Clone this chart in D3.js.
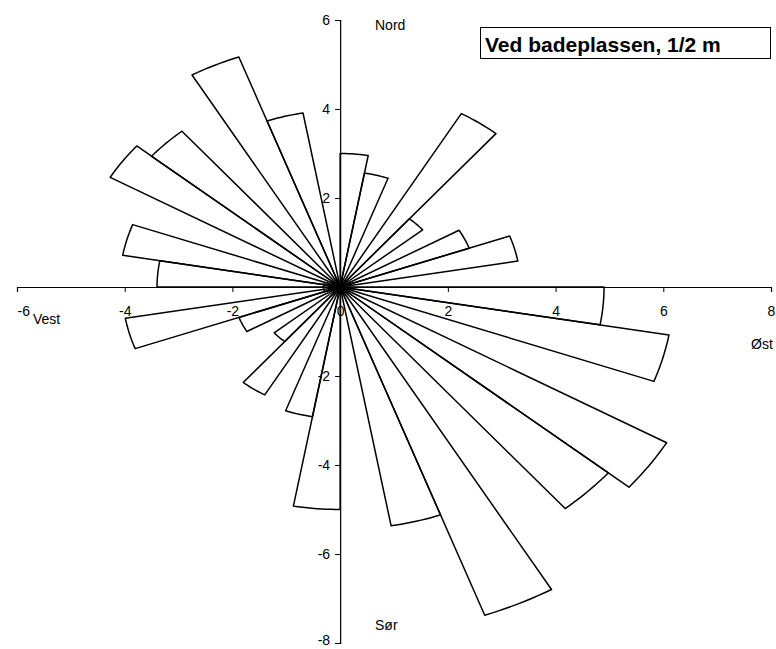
<!DOCTYPE html>
<meta charset="utf-8">
<head>
<script src="https://d3js.org/d3.v7.min.js"></script>
<style>
  body { margin: 0; background: #fff; }
  text { font-family: "Liberation Sans", Arial, sans-serif; fill: #000; }
</style>
</head>
<body>
<svg id="chart"></svg>
<script>
// wind rose sectors, 10 degrees each, bearing measured clockwise from north
var sectorStart = [0,10,20,30,40,50,60,70,80,90,100,110,120,130,140,150,160,170,
                   180,190,200,210,220,230,240,250,260,270,280,290,300,310,320,330,340,350];
var sectorValue = [3.0,2.6,0,4.5,2.0,0,2.55,3.35,0,4.9,6.2,0,7.0,6.5,0,7.85,5.45,0,
                   5.0,2.96,0,2.8,1.6,0,2.0,4.05,0,3.4,4.1,0,4.93,4.57,0,5.5,3.97,0];
var xTicks = [-6,-4,-2,0,2,4,6,8];
var yTicks = [-8,-6,-4,-2,0,2,4,6];
var title = "Ved badeplassen, 1/2 m";

var W = 776, H = 649;
var svg = d3.select("#chart").attr("width", W).attr("height", H);

var x = d3.scaleLinear().domain([-6, 8]).range([17, 771]);
var y = d3.scaleLinear().domain([-8, 6]).range([643, 20]);
var fmt = function(d){ return String(d); }; // plain hyphen minus like the original

// axes crossing at the origin
var xAxis = d3.axisBottom(x).tickValues(xTicks).tickFormat(fmt).tickSize(5).tickPadding(14);
var gx = svg.append("g").attr("transform", "translate(0," + y(0) + ")").call(xAxis);
var yAxis = d3.axisLeft(y).tickValues(yTicks).tickFormat(fmt).tickSize(5).tickPadding(5);
var gy = svg.append("g").attr("transform", "translate(" + x(0) + ",0)").call(yAxis);

svg.selectAll(".domain").attr("stroke", "#000").attr("stroke-width", 1.2);
svg.selectAll(".tick line").attr("stroke", "#000");
svg.selectAll(".tick text").style("font-size", "14px").style("font-family", "Liberation Sans, Arial, sans-serif");
gx.selectAll(".tick text").filter(function(d){ return d === -6; }).attr("text-anchor", "start").attr("x", 0);
gy.selectAll(".tick text").filter(function(d){ return d === -8; }).attr("dy", "0.1em");

// wedges
var line = d3.line().x(function(d){ return x(d[0]); }).y(function(d){ return y(d[1]); });
sectorStart.forEach(function(b, i){
  var r = sectorValue[i];
  if (!r) return;
  var pts = [[0,0]];
  for (var k = 0; k <= 10; k++) {
    var a = (b + k) * Math.PI / 180;
    pts.push([r * Math.sin(a), r * Math.cos(a)]);
  }
  pts.push([0,0]);
  svg.append("path").attr("d", line(pts))
    .attr("fill", "none").attr("stroke", "#000").attr("stroke-width", 1.5)
    .attr("stroke-linejoin", "round");
});

// compass labels
svg.append("text").attr("x", 375).attr("y", 30).style("font-size", "14px").text("Nord");
svg.append("text").attr("x", 375).attr("y", 630).style("font-size", "14px").text("Sør");
svg.append("text").attr("x", 33).attr("y", 324).style("font-size", "14px").text("Vest");
svg.append("text").attr("x", 751).attr("y", 349).style("font-size", "14px").text("Øst");

// title box
svg.append("rect").attr("x", 480.5).attr("y", 27.5).attr("width", 290).attr("height", 31)
  .attr("fill", "#fff").attr("stroke", "#000");
svg.append("text").attr("x", 485).attr("y", 52).style("font-size", "21px")
  .style("font-weight", "bold").text(title);
</script>
</body>
